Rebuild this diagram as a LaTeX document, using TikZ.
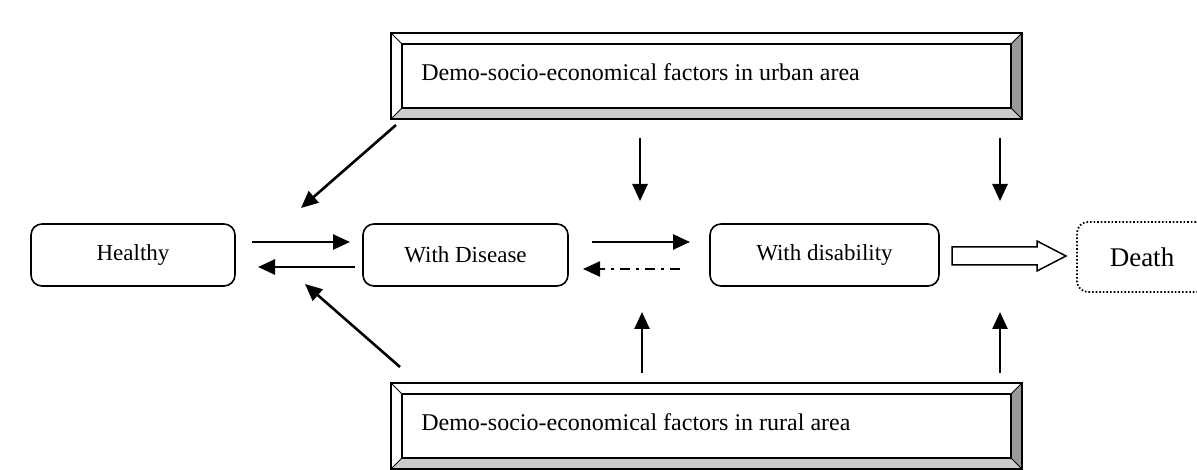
\documentclass[tikz,border=0pt]{standalone}
\usepackage{fontspec}
\setmainfont{Liberation Serif}
\usetikzlibrary{arrows.meta,calc}
\begin{document}
\begin{tikzpicture}[x=1pt,y=-1pt,
  state/.style={draw, line width=1.6pt, rounded corners=11pt, inner sep=0pt, font=\fontsize{23}{27}\selectfont},
  bevelouter/.style={draw, line width=1.8pt, inner sep=0pt, minimum width=629pt, minimum height=84pt},
  beveltext/.style={inner sep=0pt, anchor=west, font=\fontsize{24}{28}\selectfont},
  flow/.style={line width=2.6pt, -{Triangle[length=17pt,width=15pt]}},
  hollow/.style={draw, line width=1.5pt, fill=white}
]
\useasboundingbox (0,0) rectangle (1197,470);
\begin{scope}
\clip (0,0) rectangle (1197,470);

% state nodes
\node[state, minimum width=204pt, minimum height=62pt] (healthy) at (133,255) {Healthy};
\node[state, minimum width=205pt, minimum height=62pt] (disease) at (465.5,255) {With Disease};
\node[state, minimum width=229pt, minimum height=62pt] (disab) at (824.5,255) {With disability};
\node[state, dotted, line width=1.8pt, minimum width=130pt, minimum height=70pt, font=\fontsize{27}{31}\selectfont] (death) at (1142,257) {Death};

% bevel boxes
\foreach \nm/\cy/\txt in {urban/76/{Demo-socio-economical factors in urban area},
                          rural/426/{Demo-socio-economical factors in rural area}}{
  \node[bevelouter] (\nm) at (706.5,\cy) {};
  \coordinate (\nm-inw) at ($(\nm.north west)+(11,11)$);
  \coordinate (\nm-ine) at ($(\nm.north east)+(-11,11)$);
  \coordinate (\nm-ise) at ($(\nm.south east)+(-11,-11)$);
  \coordinate (\nm-isw) at ($(\nm.south west)+(11,-11)$);
  \fill[white] (\nm.north west) -- (\nm.north east) -- (\nm-ine) -- (\nm-inw) -- cycle;
  \fill[white] (\nm.north west) -- (\nm-inw) -- (\nm-isw) -- (\nm.south west) -- cycle;
  \fill[black!20] (\nm.south west) -- (\nm-isw) -- (\nm-ise) -- (\nm.south east) -- cycle;
  \fill[black!40] (\nm.north east) -- (\nm.south east) -- (\nm-ise) -- (\nm-ine) -- cycle;
  \draw[line width=0.8pt] (\nm.north west) -- (\nm-inw) (\nm.north east) -- (\nm-ine)
        (\nm.south east) -- (\nm-ise) (\nm.south west) -- (\nm-isw);
  \draw[line width=1.8pt] (\nm.north west) rectangle (\nm.south east);
  \draw[line width=1.8pt] (\nm-inw) rectangle (\nm-ise);
  \node[beveltext] (\nm-t) at ($(\nm.west)+(30,-4)$) {\txt};
}

% free ends of connectors
\coordinate (hd1) at (252,242); \coordinate (hd2) at (350,242);
\coordinate (dh1) at (355,267); \coordinate (dh2) at (258,267);
\coordinate (dd1) at (592,242); \coordinate (dd2) at (690,242);
\coordinate (bk1) at (680,269); \coordinate (bk2) at (583,269);
\coordinate (ud1) at (396,125); \coordinate (ud2) at (301,208);
\coordinate (rd1) at (400,367); \coordinate (rd2) at (305,284);
\coordinate (um1) at (640,138); \coordinate (um2) at (640,201);
\coordinate (ur1) at (1000,138); \coordinate (ur2) at (1000,201);
\coordinate (rm1) at (642,373); \coordinate (rm2) at (642,312);
\coordinate (rr1) at (1000,373); \coordinate (rr2) at (1000,312);

\draw[flow] (hd1) -- (hd2);
\draw[flow] (dh1) -- (dh2);
\draw[flow] (dd1) -- (dd2);
\draw[line width=2.4pt, dash pattern=on 10pt off 6pt on 3pt off 6pt, -{Triangle[length=17pt,width=15pt]}] (bk1) -- (bk2);
\draw[flow] (ud1) -- (ud2);
\draw[flow] (rd1) -- (rd2);
\draw[flow] (um1) -- (um2);
\draw[flow] (ur1) -- (ur2);
\draw[flow] (rm1) -- (rm2);
\draw[flow] (rr1) -- (rr2);

% hollow arrow from disability to death
\draw[hollow] (952,247) -- (1037,247) -- (1037,241) -- (1066,256) -- (1037,271) -- (1037,265) -- (952,265) -- cycle;
\end{scope}
\end{tikzpicture}
\end{document}
